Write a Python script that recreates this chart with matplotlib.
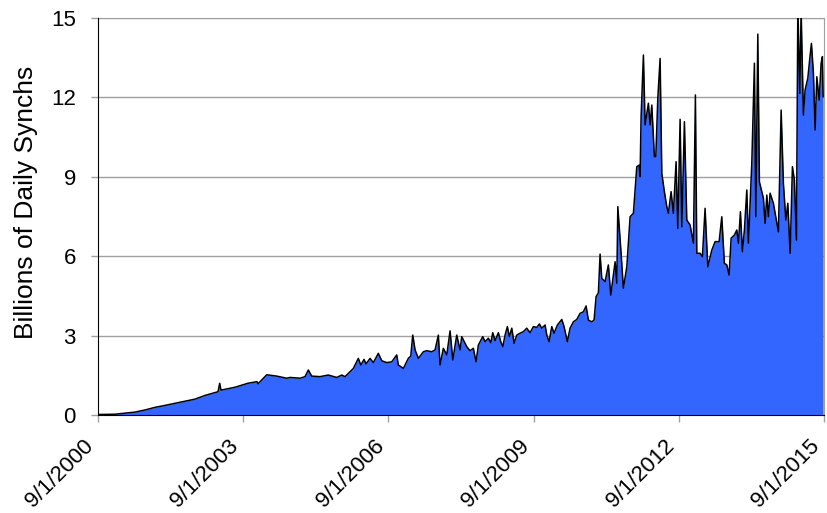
#!/usr/bin/env python3
"""
Daily synch volume since launch, drawn as a filled area chart.
"""

import pandas as pd
import matplotlib.pyplot as plt

plt.rcParams['font.family'] = ['Liberation Sans', 'DejaVu Sans']

# Years elapsed since 9/1/2000 and the daily synch count (billions) at that point
years_since_start = [
    0.000, 0.351, 0.764, 0.971, 1.178, 1.322, 1.736, 2.004, 2.211, 2.479,
    2.514, 2.541, 2.831, 3.099, 3.285, 3.306, 3.486, 3.692, 3.899,
    3.967, 4.174, 4.277, 4.345, 4.415, 4.587, 4.758, 4.932, 5.035, 5.103,
    5.207, 5.275, 5.378, 5.428, 5.496, 5.537, 5.620, 5.688, 5.791, 5.862,
    5.965, 6.068, 6.171, 6.205, 6.308, 6.411, 6.461, 6.502, 6.550, 6.618,
    6.721, 6.791, 6.895, 6.963, 7.031, 7.066, 7.134, 7.205, 7.273, 7.329,
    7.411, 7.479, 7.514, 7.618, 7.686, 7.754, 7.810, 7.857,
    7.948, 7.996, 8.064, 8.114, 8.155, 8.202, 8.271, 8.320, 8.362, 8.409,
    8.457, 8.498, 8.548, 8.595, 8.651, 8.719, 8.787, 8.857, 8.926, 8.994,
    9.064, 9.118, 9.167, 9.236, 9.271, 9.318, 9.374, 9.421, 9.490, 9.581,
    9.628, 9.696, 9.752, 9.820, 9.890, 9.959, 10.027, 10.083, 10.130, 10.200,
    10.248, 10.289, 10.337,
    10.372, 10.407, 10.475, 10.543, 10.593, 10.682, 10.717, 10.738, 10.806,
    10.853, 10.924, 10.992, 11.060, 11.130, 11.178, 11.198, 11.219, 11.267, 11.302,
    11.370, 11.405, 11.440, 11.494, 11.523, 11.564, 11.612, 11.647, 11.700, 11.750,
    11.783, 11.839, 11.886, 11.942, 11.977, 12.025, 12.060, 12.114, 12.163, 12.231,
    12.300, 12.341, 12.370, 12.438, 12.486, 12.541, 12.597, 12.680, 12.748, 12.831,
    12.886, 12.940, 12.990, 13.037, 13.079, 13.147, 13.196, 13.230, 13.271, 13.312,
    13.353, 13.403, 13.436, 13.506, 13.560, 13.589, 13.630, 13.663, 13.746, 13.781,
    13.816, 13.849, 13.884, 13.952, 14.056, 14.112, 14.159, 14.209, 14.250, 14.298,
    14.345, 14.386, 14.428, 14.457, 14.498, 14.525, 14.572, 14.607, 14.663, 14.711,
    14.738, 14.779, 14.814, 14.849, 14.897, 14.938, 14.965, 14.979,
]
synchs = [
    0.02, 0.03, 0.11, 0.19, 0.29, 0.34, 0.50, 0.60, 0.74, 0.88,
    1.20, 0.94, 1.05, 1.20, 1.26, 1.18, 1.52, 1.47, 1.39,
    1.42, 1.39, 1.45, 1.70, 1.47, 1.45, 1.51, 1.42, 1.51, 1.45,
    1.64, 1.76, 2.14, 1.89, 2.10, 1.93, 2.14, 1.98, 2.33, 2.05,
    1.98, 2.01, 2.27, 1.89, 1.76, 2.14, 2.23, 3.02, 2.46, 2.14,
    2.39, 2.43, 2.39, 2.46, 3.02, 1.89, 2.52, 2.27, 3.18, 2.08,
    3.02, 2.46, 2.96, 2.58, 2.43, 2.52, 2.01, 2.64,
    2.96, 2.77, 2.90, 2.73, 3.11, 2.81, 3.11, 2.77, 2.58, 3.02,
    3.34, 2.96, 3.28, 2.71, 3.02, 3.09, 3.15, 3.28, 3.11, 3.34,
    3.31, 3.44, 3.28, 3.40, 3.02, 2.77, 3.34, 3.09, 3.40, 3.61,
    3.34, 2.77, 3.28, 3.52, 3.61, 3.84, 3.90, 4.12, 3.59, 3.52,
    3.59, 4.47, 4.62,
    6.08, 5.16, 5.04, 5.67, 4.53, 5.79, 4.98, 7.87, 6.11,
    4.79, 5.60, 7.49, 7.62, 9.38, 9.44, 9.00, 11.27, 13.60, 10.96,
    11.78, 10.96, 11.71, 9.76, 9.76, 11.96, 13.47, 9.13, 8.44, 7.87,
    7.62, 8.44, 7.62, 9.57, 7.05, 11.17, 7.11, 11.08, 7.37, 7.18,
    6.49, 12.09, 6.11, 6.11, 5.98, 7.81, 5.60, 6.23, 6.55, 6.55,
    7.49, 5.73, 5.67, 5.29, 6.68, 6.80, 6.99, 6.49, 7.68, 6.17,
    6.99, 8.50, 6.49, 9.51, 13.29, 7.49, 14.39, 8.81, 8.19, 7.24,
    8.31, 7.49, 8.38, 8.00, 6.92, 11.52, 8.75, 7.37, 8.00, 6.11,
    9.38, 8.88, 6.61, 15.50, 12.15, 15.30, 11.33, 12.28, 12.72, 13.60,
    14.04, 12.91, 10.77, 12.78, 11.90, 13.29, 13.54, 12.03,
]

start = pd.Timestamp('2000-09-01')
tick_years = [2000, 2003, 2006, 2009, 2012, 2015]
y_ticks = [0, 3, 6, 9, 12, 15]

dates = [start + pd.Timedelta(days=y * 365.25) for y in years_since_start]
tick_dates = [pd.Timestamp(f'{y}-09-01') for y in tick_years]

fig = plt.figure(figsize=(8.27, 5.13), dpi=100)
ax = fig.add_axes([0.1185, 0.191, 0.8779, 0.774])

ax.fill_between(dates, synchs, 0, color='#3366FF', linewidth=0, zorder=2)
ax.plot(dates, synchs, color='black', linewidth=1.1, zorder=3)

ax.set_xlim(tick_dates[0], tick_dates[-1])
ax.set_ylim(0, 15)

ax.set_yticks(y_ticks)
ax.set_yticklabels([str(v) for v in y_ticks], fontsize=16)
ax.set_xticks(tick_dates)
ax.set_xticklabels([f'9/1/{y}' for y in tick_years], fontsize=16,
                   rotation=45, ha='right', va='top')

ax.grid(axis='y', color='#A0A0A0', linewidth=1.0, zorder=1)
ax.set_axisbelow(True)

ax.tick_params(axis='y', direction='out', length=5, width=1, color='#A0A0A0', pad=11)
ax.tick_params(axis='x', direction='out', length=5, width=1, color='#A0A0A0', pad=10)

ax.spines['left'].set_color('black')
ax.spines['bottom'].set_color('black')
ax.spines['left'].set_zorder(4)
ax.spines['bottom'].set_zorder(4)
ax.spines['top'].set_color('#A0A0A0')
ax.spines['right'].set_color('#A0A0A0')

ax.set_ylabel('Billions of Daily Synchs', fontsize=19)
ax.yaxis.set_label_coords(-0.083, 0.535)

plt.savefig('out.png', dpi=100)
